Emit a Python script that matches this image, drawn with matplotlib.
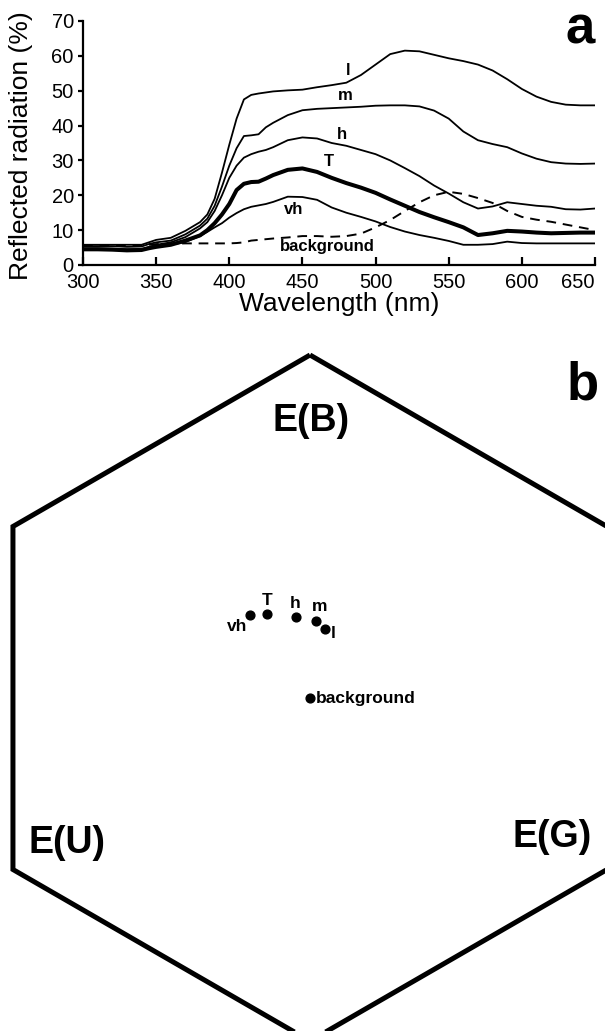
import numpy as np
import matplotlib
matplotlib.use('Agg')
import matplotlib.pyplot as plt
from matplotlib.patches import Polygon

plt.rcParams['font.family'] = ['Liberation Sans', 'DejaVu Sans']

# ---- panel a: reflectance spectra ----
wavelength = [300, 310, 320, 330, 340, 345, 350, 360, 370, 380, 385, 390, 395,
              400, 405, 410, 415, 420, 425, 430, 440, 450, 460, 470, 480, 490,
              500, 510, 520, 530, 540, 550, 560, 570, 580, 590, 600, 610, 620,
              630, 640, 650]

refl_l = [5.8, 5.8, 5.8, 5.8, 5.8, 6.5, 7.2, 7.8, 9.8, 12.3, 14.5, 19.0, 26.5,
          34.5, 42.0, 47.5, 48.8, 49.2, 49.5, 49.8, 50.1, 50.3, 51.0, 51.6, 52.3, 54.5,
          57.5, 60.5, 61.5, 61.3, 60.3, 59.3, 58.5, 57.5, 55.8, 53.3, 50.5, 48.3, 46.8,
          46.0, 45.8, 45.8]
refl_m = [5.4, 5.4, 5.4, 5.2, 5.3, 6.0, 6.5, 7.0, 8.8, 11.3, 13.3, 17.0, 22.5,
          28.5, 33.5, 37.0, 37.2, 37.5, 39.5, 40.8, 43.0, 44.4, 44.8, 45.0, 45.2, 45.4,
          45.7, 45.8, 45.8, 45.5, 44.3, 42.0, 38.3, 35.8, 34.7, 33.8, 32.0, 30.5, 29.5,
          29.1, 29.0, 29.1]
refl_h = [4.8, 4.8, 4.7, 4.5, 4.6, 5.2, 5.8, 6.5, 8.0, 10.5, 12.3, 15.5, 20.0,
          25.0, 28.5, 30.8, 31.8, 32.5, 33.0, 33.8, 35.8, 36.6, 36.3, 35.0, 34.2, 33.0,
          31.8, 30.0, 27.8, 25.5, 22.8, 20.5, 18.0, 16.2, 16.8, 18.0, 17.5, 17.0, 16.7,
          16.0, 15.9, 16.2]
refl_T = [4.5, 4.5, 4.4, 4.2, 4.3, 4.8, 5.2, 5.8, 7.0, 8.5, 10.0, 12.0, 14.5,
          17.5, 21.5, 23.3, 23.8, 23.9, 24.8, 25.8, 27.3, 27.7, 26.7, 25.0, 23.5, 22.2,
          20.7, 18.8, 17.0, 15.2, 13.7, 12.3, 10.8, 8.6, 9.1, 9.8, 9.6, 9.3, 9.1,
          9.2, 9.3, 9.3]
refl_vh = [4.6, 4.6, 4.5, 4.4, 4.5, 4.9, 5.2, 5.8, 6.6, 8.3, 9.5, 10.8, 12.0,
           13.6, 14.9, 16.0, 16.7, 17.1, 17.5, 18.1, 19.6, 19.5, 18.7, 16.5, 15.0, 13.8,
           12.5, 10.9, 9.6, 8.6, 7.8, 6.9, 5.8, 5.8, 6.0, 6.7, 6.3, 6.2, 6.2,
           6.2, 6.2, 6.2]
refl_bg = [5.6, 5.6, 5.6, 5.6, 5.6, 5.8, 6.0, 6.1, 6.2, 6.2, 6.2, 6.2, 6.2,
           6.2, 6.3, 6.5, 7.0, 7.2, 7.4, 7.6, 7.9, 8.3, 8.3, 8.1, 8.3, 9.0,
           10.8, 12.9, 15.5, 18.0, 20.0, 21.0, 20.4, 19.2, 17.8, 15.5, 13.8, 13.0, 12.4,
           11.6, 10.8, 10.0]

# ---- panel b: colour hexagon loci ----
hex_names = ['vh', 'T', 'h', 'm', 'l', 'background']
hex_x = [-0.175, -0.126, -0.042, 0.017, 0.044, 0.0]
hex_y = [0.242, 0.245, 0.236, 0.224, 0.201, 0.0]

fig = plt.figure(figsize=(6.05, 10.31), dpi=100)

ax = fig.add_axes([83 / 605, 1 - 265 / 1031, 512 / 605, 244 / 1031])
for vals in (refl_l, refl_m, refl_h, refl_vh):
    ax.plot(wavelength, vals, color='black', lw=1.3)
ax.plot(wavelength, refl_T, color='black', lw=2.9)
ax.plot(wavelength, refl_bg, color='black', lw=1.4, dashes=(5, 3.5))

# curve labels
for txt, wx, wy in [('l', 481, 55.9), ('m', 479, 48.5), ('h', 477, 37.3),
                    ('T', 468, 29.6), ('vh', 444, 16.0), ('background', 467, 5.2)]:
    ax.text(wx, wy, txt, ha='center', va='center', fontsize=12, fontweight='bold')

ax.set_xlim(300, 650)
ax.set_ylim(0, 70)
ax.set_xticks(np.arange(300, 651, 50))
ax.set_yticks(np.arange(0, 71, 10))
ax.spines['top'].set_visible(False)
ax.spines['right'].set_visible(False)
for s in ('left', 'bottom'):
    ax.spines[s].set_linewidth(1.6)
ax.tick_params(axis='x', direction='in', length=5.5, width=1.6, pad=6, labelsize=14.5)
ax.tick_params(axis='y', direction='out', length=3.6, width=1.6, pad=3, labelsize=14.5)
ax.get_xticklabels()[-1].set_ha('right')
ax.set_xlabel('Wavelength (nm)', fontsize=19, labelpad=0)
ax.set_ylabel('Reflected radiation (%)', fontsize=19)
ax.yaxis.set_label_coords(-0.098, 0.49)

fig.text(580 / 605, 1 - 43 / 1031, 'a', ha='center', va='baseline',
         fontsize=38, fontweight='bold')

# hexagon panel, 343 px per unit, centre at pixel (310, 698)
scale = 343.0
axb = fig.add_axes([0, 0, 1, 691 / 1031])
axb.set_xlim(-310 / scale, 295 / scale)
axb.set_ylim((698 - 1031) / scale, (698 - 340) / scale)
axb.axis('off')

ang = np.deg2rad(90 + 60 * np.arange(6))
hexagon = Polygon(np.c_[np.cos(ang), np.sin(ang)], closed=True, fill=False,
                  edgecolor='black', lw=3.6, joinstyle='miter')
axb.add_patch(hexagon)

axb.scatter(hex_x, hex_y, s=40, color='black', zorder=3)
offsets = {'vh': (-9.6, -8.6, 'center'), 'T': (0, 10, 'center'), 'h': (0, 9.4, 'center'),
           'm': (3, 10.3, 'center'), 'l': (6, -3, 'center'), 'background': (4.5, 0, 'left')}
for name, px, py in zip(hex_names, hex_x, hex_y):
    dx, dy, ha = offsets[name]
    axb.annotate(name, (px, py), xytext=(dx, dy), textcoords='offset points',
                 ha=ha, va='center', fontsize=12.5, fontweight='bold')

for txt, ex, ey in [('E(B)', 0.003, 0.778), ('E(U)', -0.707, -0.452), ('E(G)', 0.707, -0.434)]:
    axb.text(ex, ey, txt, ha='center', va='baseline', fontsize=27, fontweight='bold')

fig.text(583 / 605, 1 - 400 / 1031, 'b', ha='center', va='baseline',
         fontsize=38, fontweight='bold')

fig.savefig('out.png', dpi=100)
plt.close(fig)
